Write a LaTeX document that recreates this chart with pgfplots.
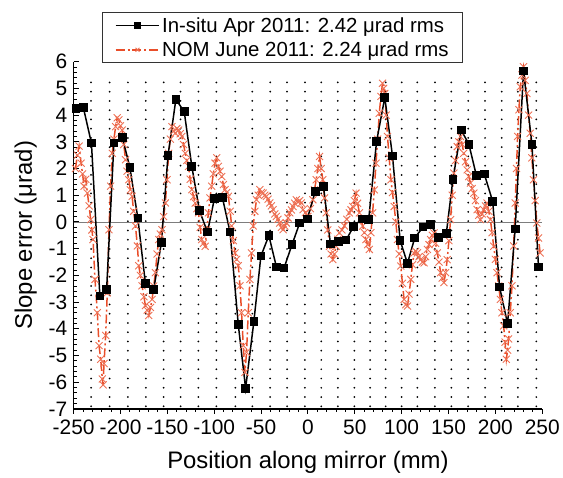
\documentclass[border=0pt]{standalone}
\usepackage{pgfplots}
\pgfplotsset{compat=1.18}
\usepackage{fontspec}
\setmainfont{Liberation Sans}

\definecolor{nomred}{RGB}{233,78,42}
\definecolor{zerogray}{RGB}{125,125,125}

% in-situ measurement, April 2011
\pgfplotstableread{
x y
-247.6 4.25
-239.6 4.28
-231.0 2.95
-222.0 -2.77
-214.8 -2.53
-207.0 2.95
-198.0 3.16
-190.0 2.04
-181.5 0.15
-173.4 -2.31
-164.5 -2.52
-156.4 -0.78
-149.3 2.49
-140.9 4.59
-132.0 4.13
-123.9 2.08
-115.7 0.42
-107.2 -0.38
-99.8 0.87
-91.3 0.92
-83.1 -0.38
-74.3 -3.85
-66.5 -6.23
-57.7 -3.73
-50.2 -1.28
-41.7 -0.51
-33.6 -1.69
-25.5 -1.72
-17.0 -0.85
-8.8 -0.04
-0.7 0.11
7.8 1.15
16.6 1.33
24.0 -0.82
32.5 -0.72
40.7 -0.68
48.8 -0.16
57.7 0.11
64.8 0.09
73.2 3.01
82.0 4.66
90.2 2.47
98.4 -0.70
106.2 -1.55
113.9 -0.60
122.8 -0.19
130.9 -0.10
139.1 -0.57
147.6 -0.44
154.7 1.60
163.5 3.44
171.7 2.91
179.7 1.74
188.2 1.79
197.1 0.77
204.5 -2.44
213.0 -3.81
221.1 -0.26
230.0 5.65
239.0 2.91
246.0 -1.69
}\insitu

% NOM measurement, June 2011
\pgfplotstableread{
x y
-248 2.0
-246 2.5
-244.2 2.84
-242 2.2
-240.5 1.8
-238.9 1.34
-237 1.6
-235.3 1.08
-233.5 0.6
-231.8 0.09
-230.5 -0.3
-229.3 -0.66
-227.2 -2.15
-224.7 -3.4
-222.9 -4.63
-221.1 -5.14
-219.4 -5.88
-218.5 -6.1
-217.6 -5.3
-215.8 -4.25
-214.1 -2.65
-212.3 -0.29
-210.5 1.34
-208.8 2.57
-207 3.1
-205.2 3.57
-203.5 3.9
-201.7 3.82
-200 3.6
-198.2 3.44
-196.5 2.9
-194.6 2.33
-193 1.9
-191.1 1.58
-189.5 1.2
-187.6 0.96
-186 0.4
-184 -0.15
-182 -0.9
-180.5 -1.64
-178.8 -2.0
-177 -2.39
-175 -2.8
-173.4 -3.13
-171.5 -3.3
-169.9 -3.5
-168 -3.2
-166.3 -2.9
-164.5 -2.4
-162.8 -1.9
-161 -1.2
-159.2 -0.66
-157.5 -0.45
-155.7 -0.29
-154 0.2
-152.1 0.71
-150.4 1.58
-148.6 2.57
-146.8 3.1
-145.1 3.57
-143.3 3.4
-141.5 3.32
-139.8 3.5
-138 3.44
-136.2 3.3
-134.5 3.2
-132.7 2.9
-130.9 2.57
-129.2 2.3
-127.4 2.08
-125.6 1.6
-123.9 1.21
-122 0.95
-120.3 0.71
-118.5 0.5
-116.8 0.34
-115 -0.2
-113.3 -0.66
-111.5 -0.8
-109.7 -0.91
-108 -0.3
-106.2 0.34
-104.5 0.9
-102.7 1.34
-101 1.8
-99.1 2.2
-97.3 2.4
-95.5 2.08
-93.8 1.9
-92 1.7
-90.2 1.4
-88.4 1.21
-86.6 1.1
-84.9 0.96
-83 0.4
-81.4 -0.15
-79.6 -0.7
-77.8 -1.16
-76 -1.4
-74.3 -1.64
-72.5 -2.39
-70.8 -3.4
-69 -4.63
-67.2 -5.63
-65.5 -4.88
-63.7 -3.4
-61.9 -2.15
-60.2 -1.16
-58.4 -0.15
-56.6 0.4
-54.9 0.83
-53 1.0
-51.3 1.21
-49.5 1.1
-47.8 1.08
-46 1.0
-44.3 0.96
-42.5 0.85
-40.7 0.71
-39 0.6
-37.2 0.46
-35.4 0.3
-33.7 0.21
-32 0.1
-30.1 -0.04
-28.3 -0.2
-26.5 -0.29
-24.7 -0.15
-23 -0.04
-21.2 0.15
-19.4 0.34
-17.6 0.45
-15.9 0.58
-14.1 0.7
-12.4 0.83
-10.6 0.75
-8.8 0.8
-7.1 0.71
-5.3 0.46
-2.6 0.35
0 0.21
2.6 0.5
5.3 0.83
7 1.2
8.8 1.58
10.6 2.0
12.4 2.45
14.1 2.0
15.9 1.58
17.7 0.9
19.5 0.34
21.2 -0.3
23 -0.91
24.7 -1.2
26.5 -1.41
28.3 -1.2
30.1 -0.91
31.9 -0.65
33.6 -0.41
36.2 -0.3
38.9 -0.15
41.5 0.1
44.2 0.34
46 0.45
47.8 0.58
49.5 0.8
51.3 1.08
53 0.7
54.9 0.34
56.6 0.1
58.4 -0.15
60.2 -0.4
61.9 -0.66
63.7 -0.85
65.5 -1.03
67.2 -0.4
69 0.34
70.8 1.2
72.6 2.2
74.4 3.1
76.1 4.07
77.9 4.7
79.6 5.19
80.8 5.0
82.1 4.81
83.5 4.0
84.9 3.2
86.7 2.4
88.5 1.58
90.2 1.1
92 0.58
93.8 0.0
95.5 -0.66
97.3 -1.2
99.1 -1.65
100.8 -2.3
102.6 -2.9
104.4 -3.1
106.2 -3.15
107.9 -2.7
109.7 -2.15
111.5 -1.6
113.2 -1.16
115 -1.1
116.8 -1.16
118.5 -1.3
120.3 -1.41
122.1 -1.5
123.9 -1.53
125.6 -1.3
127.4 -1.03
129.2 -0.85
130.9 -0.66
132.7 -0.5
134.5 -0.41
136.2 -0.8
138 -1.16
139.8 -1.5
141.6 -1.9
143.3 -2.1
145.1 -2.27
146.9 -1.9
148.6 -1.41
150.4 -0.7
152.2 0.09
153.9 1.0
155.7 1.83
157.5 2.3
159.3 2.82
161 3.0
162.8 3.2
164.6 2.9
166.3 2.57
168.1 2.25
169.9 1.95
171.6 1.7
173.4 1.46
175.2 1.25
177 1.08
178.7 0.8
180.5 0.46
182.3 0.25
184 0.09
185.8 0.3
187.6 0.46
189.4 0.6
191.1 0.71
192.9 0.4
194.7 0.09
196.4 -0.4
198.2 -0.91
200 -1.4
201.7 -1.9
203.5 -2.4
205.3 -2.9
207 -3.4
208.8 -3.89
210.3 -4.5
211.7 -5.14
213 -4.8
214.1 -4.38
215.9 -3.4
217.7 -2.39
219.5 -0.9
221.2 0.71
222.5 2.0
223.7 3.2
225.1 4.2
226.5 5.06
228.3 5.5
230 5.81
231.8 5.3
233.6 4.81
235.4 4.0
237.1 3.32
238.9 2.4
240.6 1.58
242.4 0.8
244.2 -0.04
246 -0.6
247.7 -1.16
}\nom

\begin{document}
\begin{tikzpicture}
\begin{axis}[
    scale only axis,
    width=471pt, height=349pt,
    xmin=-250, xmax=250, ymin=-7, ymax=6,
    axis x line*=bottom, axis y line*=left,
    axis line style={-, line width=1.2pt},
    xtick={-250,-200,...,250},
    ytick={-7,-6,...,6},
    minor x tick num=4, minor y tick num=4,
    xtick align=outside, ytick align=inside,
    major tick length=5pt, minor tick length=3pt,
    every tick/.style={black, line width=1pt},
    /pgf/number format/assume math mode=true,
    tick label style={font=\fontsize{21}{24}\selectfont},
    yticklabel style={xshift=-3pt},
    xticklabel style={yshift=-3pt},
    label style={font=\fontsize{24}{28}\selectfont},
    xlabel={Position along mirror (mm)},
    ylabel={Slope error (μrad)},
    xlabel style={at={(axis description cs:0.5,-0.155)}, anchor=center},
    ylabel style={at={(axis description cs:-0.102,0.5)}, anchor=center},
    reverse legend,
    legend cell align=left,
    legend style={at={(axis description cs:0.0616,1.143)}, anchor=north west,
        draw=black!80, line width=0.8pt, fill=white,
        font=\fontsize{20.5}{22}\selectfont,
        inner xsep=12pt, inner ysep=3pt, row sep=4pt},
    legend image code/.code={
        \draw[mark repeat=2, mark phase=2] plot coordinates {(0pt,0pt) (22pt,0pt) (44pt,0pt)};
    },
    legend image post style={mark size=2.8pt},
]

% dotted guide lines
\pgfplotsinvokeforeach{-231.4,-211.6,-192.1,-173,-153.9,-135.9,-116.8,-97.7,-77.5,-59.4,-40.3,-22.3,-3.2,
    14.2,31.9,49.6,66.3,83,100,116.7,135.5,153,171,189,206.7,224,243.6}{
  \addplot[black, line width=2pt, line cap=round, dash pattern=on 0pt off 9.3pt, forget plot]
    coordinates {(#1,-6.9) (#1,5.5)};
}

\addplot[zerogray, line width=0.9pt, forget plot] coordinates {(-250,0) (250,0)};

\addplot[nomred, line width=1.5pt, dash pattern=on 9pt off 3pt on 2pt off 3pt,
    mark=x, mark size=5pt, mark options={solid, line width=0.9pt, nomred!80!white}]
    table {\nom};
\addlegendentry{NOM June 2011: 2.24 μrad rms}

\addplot[black, line width=1.5pt, mark=square*, mark size=3.6pt, mark options={solid}]
    table {\insitu};
\addlegendentry{In-situ Apr 2011: 2.42 μrad rms}

\end{axis}
\path (current axis.south west) ++(-74pt,-64pt) rectangle ++(563pt,475pt);
\end{tikzpicture}
\end{document}
